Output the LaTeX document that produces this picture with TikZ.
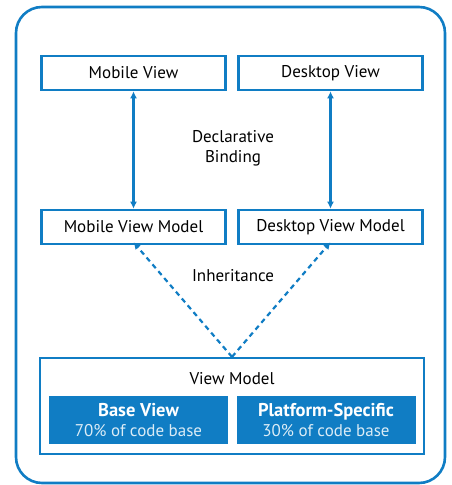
\documentclass[tikz,border=0pt]{standalone}
\usepackage{fontspec}
\setmainfont{PT Sans}
\usetikzlibrary{arrows.meta}
\definecolor{iblue}{RGB}{16,125,196}
\begin{document}
\begin{tikzpicture}[x=1pt,y=-1pt,
  box/.style={draw=iblue,line width=2.6pt,minimum width=184pt,minimum height=34pt,inner sep=0pt,font=\fontsize{17}{20}\selectfont},
  fillbox/.style={fill=iblue,text=white,minimum width=179pt,minimum height=48pt,inner sep=0pt,align=center,font=\fontsize{17}{19.5}\selectfont},
  lbl/.style={font=\fontsize{17}{20}\selectfont,align=center},
  conn/.style={draw=iblue,line width=2.2pt,{Latex[length=7pt,width=7pt]}-{Latex[length=7pt,width=7pt]}},
  inh/.style={draw=iblue,line width=2.2pt,dash pattern=on 5pt off 4pt,-{Latex[length=7pt,width=7pt]}}]
\useasboundingbox (0,0) rectangle (451,485);
\draw[iblue,line width=2.6pt,rounded corners=26pt] (16,7) rectangle (445,483);
\node[box] (mv) at (133.5,73) {Mobile View};
\node[box] (dv) at (330.5,73) {Desktop View};
\node[box] (mvm) at (133.5,227) {Mobile View Model};
\node[box] (dvm) at (330.5,227) {Desktop View Model};
\node[lbl] (db) at (233,148) {Declarative\\Binding};
\node[lbl] (inhl) at (233,276) {Inheritance};
\node[draw=iblue,line width=2.2pt,minimum width=384pt,minimum height=96pt,inner sep=0pt] (vm) at (232,406) {};
\node[lbl,anchor=center] (vml) at (232,379) {View Model};
\node[fillbox] (bv) at (138.5,420) {{\fontsize{18.5}{19.5}\selectfont\bfseries Base View}\\{\color{white!85!iblue}70\% of code base}};
\node[fillbox] (ps) at (326,420) {{\fontsize{18.5}{19.5}\selectfont\bfseries Platform-Specific}\\{\color{white!85!iblue}30\% of code base}};
\draw[conn] (mv.south) -- (mvm.north);
\draw[conn] (dv.south) -- (dvm.north);
\draw[inh] (vm.north) -- ([yshift=3pt]mvm.south);
\draw[inh] (vm.north) -- ([yshift=3pt]dvm.south);
\end{tikzpicture}
\end{document}
